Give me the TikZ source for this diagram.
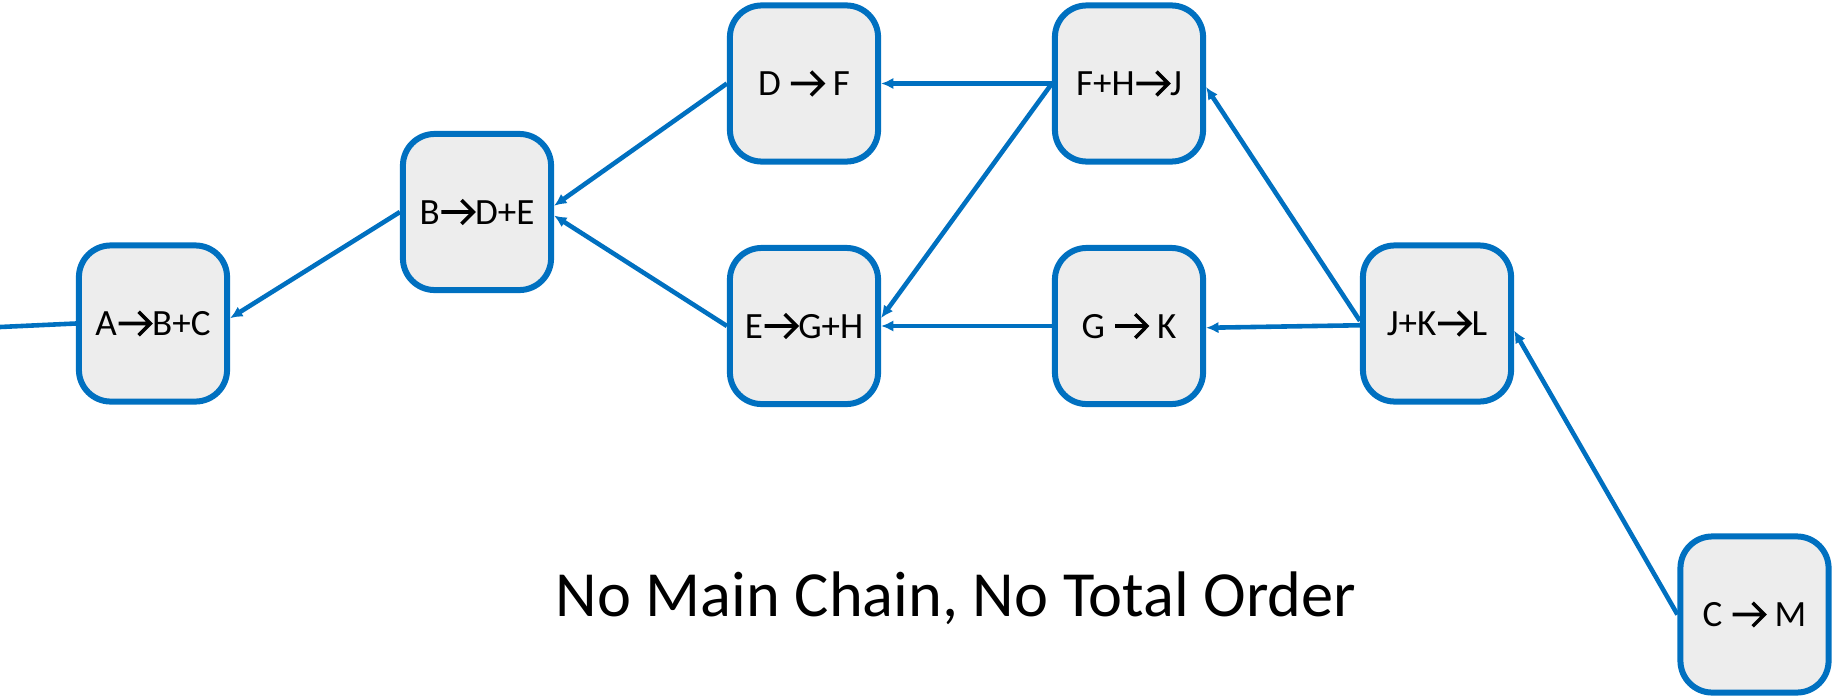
\documentclass[tikz,border=0pt]{standalone}
\usepackage{fontspec}
\setmainfont{Carlito}
\usetikzlibrary{arrows.meta}
\definecolor{edgeblue}{HTML}{0070C0}
\definecolor{boxfill}{HTML}{EDEDED}
% open-chevron reaction arrow, sized to the current font
\newcommand\reacts{\tikz[x=1em,y=1em,baseline={(0,-0.04)},sharp corners]
  \draw[black, line width=0.095em, line cap=butt, line join=miter, sharp corners, -]
    (0.06,0.33) -- (0.92,0.33) (0.60,0.65) -- (0.92,0.33) -- (0.60,0.01);}
\tikzset{
  rxn/.style={draw=edgeblue, fill=boxfill, line width=3.4pt, rounded corners=18pt,
    minimum width=84pt, minimum height=88.5pt, inner sep=0pt,
    font=\fontsize{21}{25}\selectfont},
  link/.style={draw=edgeblue, line width=2.6pt, -{Latex[length=7pt,width=6.5pt]}},
  plain/.style={draw=edgeblue, line width=2.6pt}
}
\begin{document}
\begin{tikzpicture}[x=0.5669pt, y=-0.5669pt]
\useasboundingbox (0,0) rectangle (1832,695);

\node[rxn] (abc) at (153,323.5) {A\reacts B+C};
\node[rxn] (bde) at (477,212) {B\reacts D+E};
\node[rxn] (df)  at (804,83.5) {D \reacts\ F};
\node[rxn] (egh) at (804,326) {E\reacts G+H};
\node[rxn] (fhj) at (1129,83.5) {F+H\reacts J};
\node[rxn] (gk)  at (1129,326) {G \reacts\ K};
\node[rxn] (jkl) at (1437,323.5) {J+K\reacts L};
\node[rxn] (cm)  at (1754.5,614.5) {C \reacts\ M};

\coordinate (inlet) at (0,327);
\draw[plain] (inlet) -- (abc.west);

\draw[link] (bde.west) -- ([yshift=3pt]abc.east);
\draw[link] (df.west) -- ([yshift=3.5pt]bde.east);
\draw[link] (egh.west) -- ([yshift=-2pt]bde.east);
\draw[link] (fhj.west) -- (df.east);
\draw[link] (fhj.west) -- ([yshift=4.5pt]egh.east);
\draw[link] (gk.west) -- (egh.east);
\draw[link] ([yshift=1.5pt]jkl.west) -- ([yshift=-2pt]fhj.east);
\draw[link] ([yshift=-1pt]jkl.west) -- ([yshift=-1pt]gk.east);
\draw[link] (cm.west) -- ([yshift=-4pt]jkl.east);

\node[font=\fontsize{36.5}{44}\selectfont] (caption) at (956,598) {No Main Chain, No Total Order};
\end{tikzpicture}
\end{document}
